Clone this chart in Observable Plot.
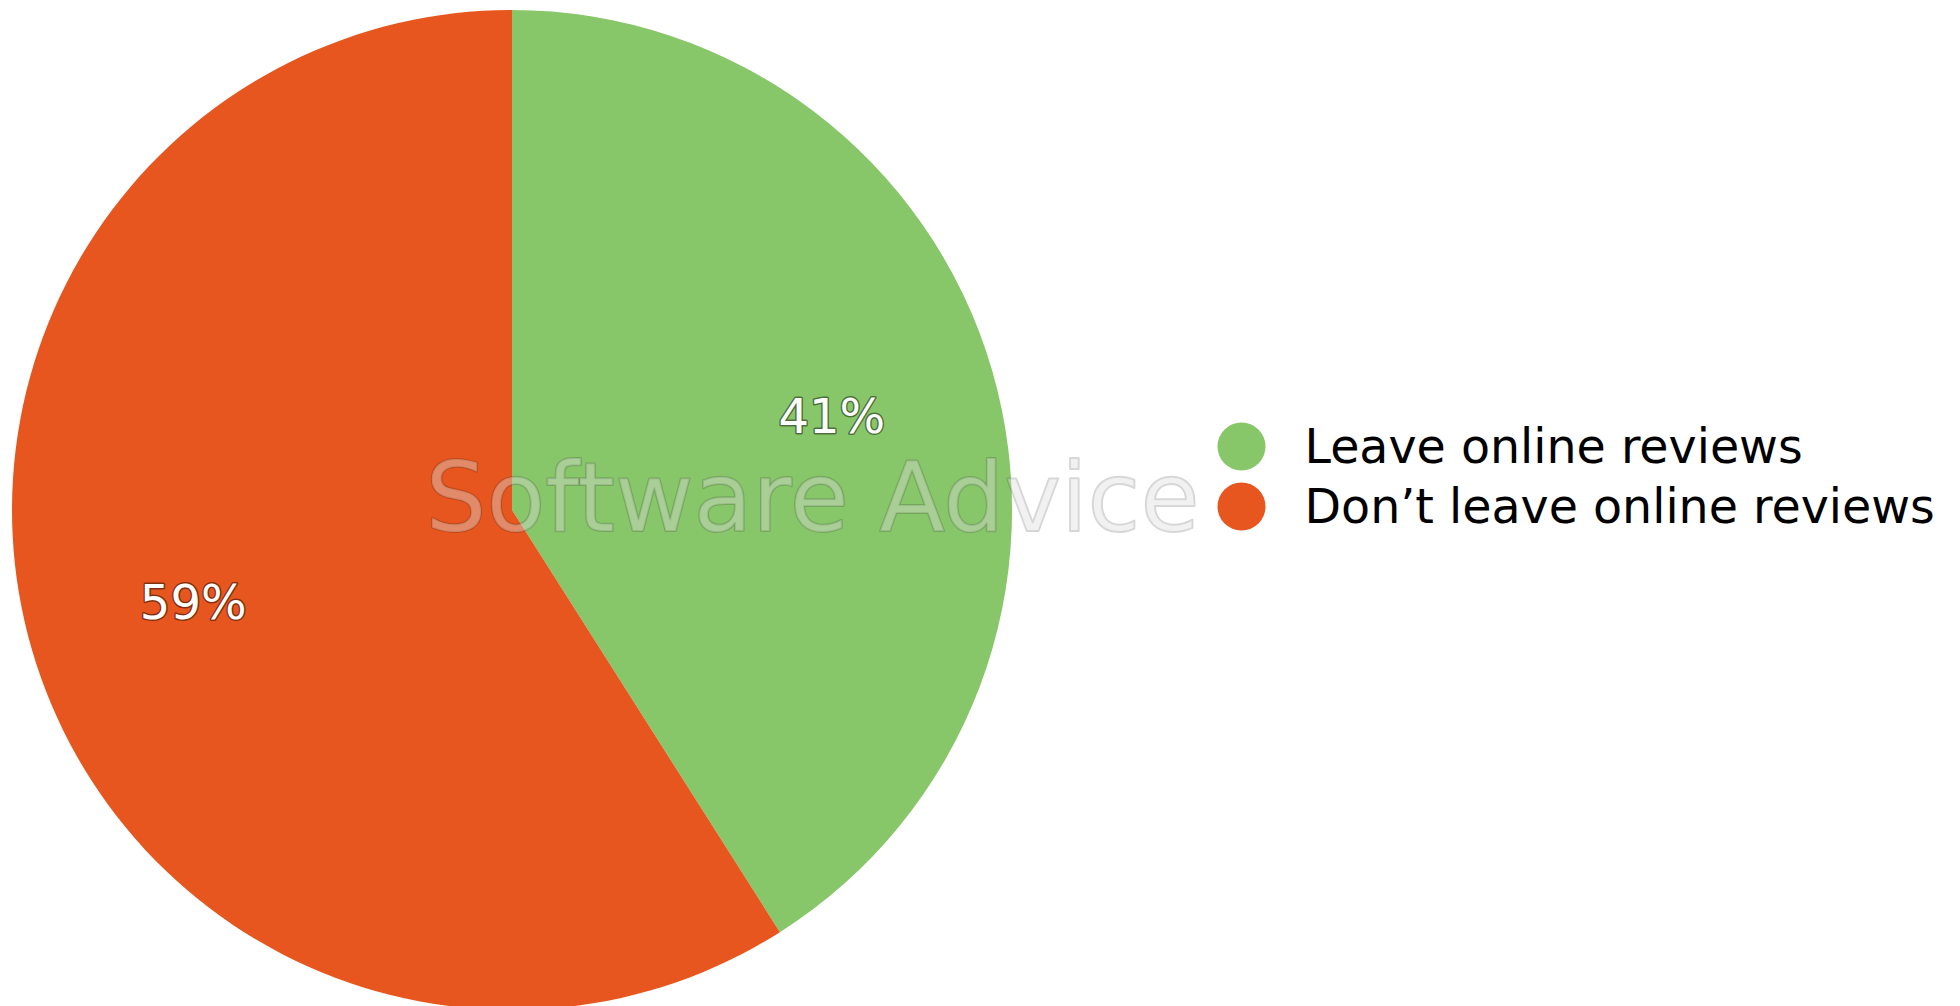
<!DOCTYPE html>
<html><head><meta charset="utf-8">
<script src="https://cdn.jsdelivr.net/npm/d3@7"></script>
<script src="https://cdn.jsdelivr.net/npm/@observablehq/plot@0.6"></script>
<style>
html,body{margin:0;padding:0;background:#fff;}
#chart{width:1960px;height:1006px;overflow:hidden}
</style></head><body><div id="chart"></div>
<script>
const categories = ["Leave online reviews", "Don’t leave online reviews"];
const shares = [41, 59];
const colors = ["#88c66a", "#e6561e"];
const watermark = ["Software Advice"];

const data = categories.map((c, i) => ({category: c, value: shares[i], color: colors[i]}));
const arcs = d3.pie().sort(null).value(d => d.value)(data);
const labelR = 0.665;
const labels = arcs.map(a => {
  const m = (a.startAngle + a.endAngle) / 2;
  return {text: `${a.data.value}%`, x: labelR * Math.sin(m), y: labelR * Math.cos(m)};
});

function pieMark(index, scales) {
  const cx = scales.x(0), cy = scales.y(0), r = scales.x(1) - scales.x(0);
  const g = d3.create("svg:g").attr("aria-label", "pie").attr("transform", `translate(${cx},${cy})`);
  const arc = d3.arc().innerRadius(0).outerRadius(r);
  g.selectAll("path").data(arcs).join("path").attr("d", arc).attr("fill", d => d.data.color);
  return g.node();
}

const chart = Plot.plot({
  width: 1960, height: 1006, margin: 0,
  x: {domain: [-1.024, 2.896], axis: null},
  y: {domain: [-0.992, 1.02], axis: null},
  style: {fontFamily: "DejaVu Sans", background: "transparent"},
  marks: [
    pieMark,
    Plot.text(watermark, {x: () => -0.174, y: () => 0.02, text: d => d, textAnchor: "start", fontSize: 96,
      fill: "#dddddd", fillOpacity: 0.4, stroke: "#000", strokeOpacity: 0.16, strokeWidth: 2, ariaLabel: "watermark"}),
    Plot.text(labels, {x: "x", y: "y", text: "text", fill: "white", fontSize: 48,
      stroke: "#000", strokeOpacity: 0.45, strokeWidth: 3, paintOrder: "stroke", ariaLabel: "slice-label"}),
    Plot.dot(data, {x: () => 1.458, y: (d, i) => 0.128 - i * 0.12, r: 24, fill: "color", stroke: null, ariaLabel: "legend-dot"}),
    Plot.text(data, {x: () => 1.584, y: (d, i) => 0.125 - i * 0.12, text: "category", textAnchor: "start", fill: "black", fontSize: 47.5, ariaLabel: "legend-text"})
  ]
});
document.getElementById("chart").appendChild(chart);
</script></body></html>
